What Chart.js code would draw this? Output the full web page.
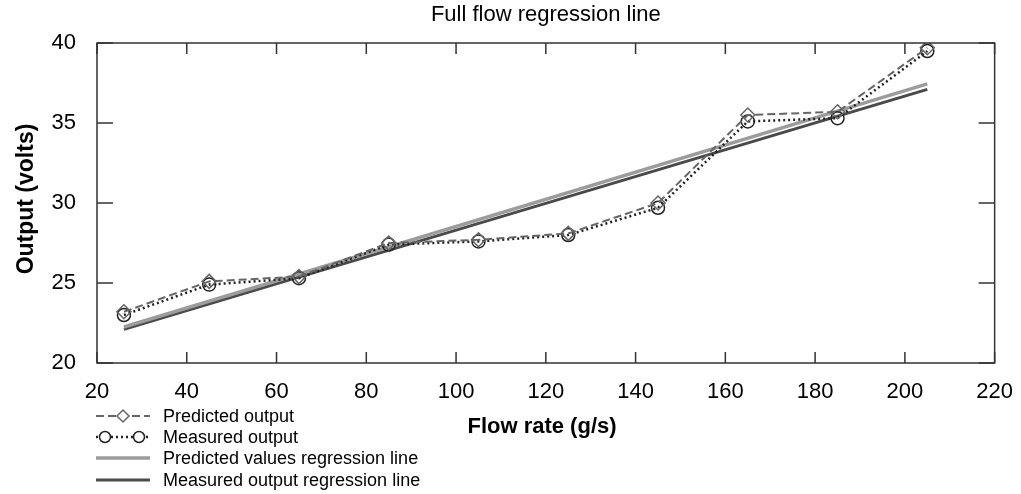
<!DOCTYPE html>
<html>
<head>
<meta charset="utf-8">
<title>Full flow regression line</title>
<script src="https://cdn.jsdelivr.net/npm/chart.js@4.4.1/dist/chart.umd.min.js"></script>
<style>
    html, body { margin: 0; padding: 0; background: #fff; }
    #wrap { width: 1021px; height: 494px; }
</style>
</head>
<body>
<div id="wrap"><canvas id="chart"></canvas></div>
<script>
const flowRate = [26, 45, 65, 85, 105, 125, 145, 165, 185, 205];
const predictedOutput = [23.2, 25.1, 25.4, 27.5, 27.7, 28.1, 30.0, 35.5, 35.7, 39.7];
const measuredOutput = [23.0, 24.9, 25.3, 27.4, 27.6, 28.0, 29.7, 35.1, 35.3, 39.5];

const fitRange = [26, 205];
const predictedFit = [22.25, 37.45];
const measuredFit = [22.1, 37.1];

const xTicks = [20, 40, 60, 80, 100, 120, 140, 160, 180, 200, 220];
const yTicks = [20, 25, 30, 35, 40];

const chartTitle = 'Full flow regression line';
const xTitle = 'Flow rate (g/s)';
const yTitle = 'Output (volts)';
const seriesLabels = [
    'Predicted output',
    'Measured output',
    'Predicted values regression line',
    'Measured output regression line',
];

const font = "'Liberation Sans', Arial, sans-serif";
const frameColor = '#333';
const predColor = '#666';
const measColor = '#222';
const predFitColor = '#9c9c9c';
const measFitColor = '#4a4a4a';

const toPoints = (xs, ys) => xs.map((x, i) => ({ x, y: ys[i] }));

// frame, inward ticks, titles and legend, MATLAB style
const decorations = {
    id: 'decorations',
    afterDraw(chart) {
        const { ctx, chartArea: a, scales: { x, y } } = chart;
        ctx.save();

        ctx.strokeStyle = frameColor;
        ctx.lineWidth = 1.5;
        ctx.setLineDash([]);
        ctx.strokeRect(a.left, a.top, a.right - a.left, a.bottom - a.top);
        ctx.beginPath();
        xTicks.forEach((v) => {
            const px = x.getPixelForValue(v);
            ctx.moveTo(px, a.bottom);
            ctx.lineTo(px, a.bottom - 11);
            ctx.moveTo(px, a.top);
            ctx.lineTo(px, a.top + 11);
        });
        yTicks.forEach((v) => {
            const py = y.getPixelForValue(v);
            ctx.moveTo(a.left, py);
            ctx.lineTo(a.left + 16, py);
            ctx.moveTo(a.right, py);
            ctx.lineTo(a.right - 16, py);
        });
        ctx.stroke();

        ctx.fillStyle = '#000';
        ctx.textAlign = 'center';
        ctx.textBaseline = 'middle';
        ctx.font = `22px ${font}`;
        ctx.fillText(chartTitle, (a.left + a.right) / 2, 15);

        ctx.font = `bold 22px ${font}`;
        ctx.fillText(xTitle, 542, 427);

        ctx.save();
        ctx.translate(27, (a.top + a.bottom) / 2 - 4);
        ctx.rotate(-Math.PI / 2);
        ctx.font = `bold 23px ${font}`;
        ctx.fillText(yTitle, 0, 0);
        ctx.restore();

        // legend
        const rows = [416, 437, 458, 480];
        const x0 = 96;
        const x1 = 150;
        ctx.font = `18px ${font}`;
        ctx.textAlign = 'left';
        chart.data.datasets.forEach((ds, i) => {
            const ry = rows[i];
            ctx.strokeStyle = ds.borderColor;
            ctx.lineWidth = ds.borderWidth;
            ctx.setLineDash(ds.borderDash || []);
            ctx.beginPath();
            ctx.moveTo(x0, ry);
            ctx.lineTo(x1, ry);
            ctx.stroke();
            ctx.setLineDash([]);
            if (ds.pointRadius > 0) {
                const marks = ds.pointStyle === 'circle' ? [105, 139] : [123];
                marks.forEach((mx) => {
                    ctx.fillStyle = '#fff';
                    ctx.strokeStyle = ds.pointBorderColor;
                    ctx.lineWidth = ds.pointBorderWidth;
                    Chart.helpers.drawPoint(ctx, {
                        pointStyle: ds.pointStyle,
                        radius: ds.pointRadius - 1,
                        borderWidth: ds.pointBorderWidth,
                    }, mx, ry);
                });
            }
            ctx.fillStyle = '#000';
            ctx.fillText(ds.label, 163, ry + 1);
        });

        ctx.restore();
    },
};

new Chart(document.getElementById('chart'), {
    type: 'scatter',
    data: {
        datasets: [
            {
                label: seriesLabels[0],
                data: toPoints(flowRate, predictedOutput),
                showLine: true,
                borderColor: predColor,
                borderWidth: 2,
                borderDash: [8, 4],
                pointStyle: 'rectRot',
                pointRadius: 7,
                pointBorderWidth: 1.5,
                pointBorderColor: predColor,
                pointBackgroundColor: 'rgba(255,255,255,0)',
            },
            {
                label: seriesLabels[1],
                data: toPoints(flowRate, measuredOutput),
                showLine: true,
                borderColor: measColor,
                borderWidth: 2.5,
                borderDash: [2, 3],
                pointStyle: 'circle',
                pointRadius: 6.5,
                pointBorderWidth: 1.5,
                pointBorderColor: measColor,
                pointBackgroundColor: 'rgba(255,255,255,0)',
            },
            {
                label: seriesLabels[2],
                data: toPoints(fitRange, predictedFit),
                showLine: true,
                borderColor: predFitColor,
                borderWidth: 3.5,
                pointRadius: 0,
            },
            {
                label: seriesLabels[3],
                data: toPoints(fitRange, measuredFit),
                showLine: true,
                borderColor: measFitColor,
                borderWidth: 3,
                pointRadius: 0,
            },
        ],
    },
    options: {
        responsive: true,
        maintainAspectRatio: false,
        animation: false,
        layout: { padding: { left: 0, top: 43, right: 26, bottom: 91 } },
        plugins: {
            legend: { display: false },
            title: { display: false },
            tooltip: { enabled: false },
        },
        scales: {
            x: {
                type: 'linear',
                min: 20,
                max: 220,
                grid: { display: false },
                border: { display: false },
                afterBuildTicks: (scale) => {
                    scale.ticks = xTicks.map((value) => ({ value }));
                },
                afterFit: (scale) => { scale.height = 40; },
                ticks: { color: '#000', padding: 8, font: { family: font, size: 22 } },
            },
            y: {
                min: 20,
                max: 40,
                grid: { display: false },
                border: { display: false },
                afterBuildTicks: (scale) => {
                    scale.ticks = yTicks.map((value) => ({ value }));
                },
                afterFit: (scale) => { scale.width = 97; },
                ticks: { color: '#000', padding: 13, font: { family: font, size: 22 } },
            },
        },
    },
    plugins: [decorations],
});
</script>
</body>
</html>
